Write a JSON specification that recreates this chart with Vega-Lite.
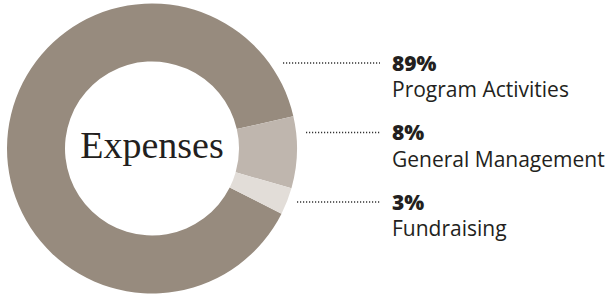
{
  "$schema": "https://vega.github.io/schema/vega-lite/v6.json",
  "padding": 0,
  "spacing": 0,
  "bounds": "flush",
  "background": "white",
  "config": {"view": {"stroke": null}, "font": "Open Sans"},
  "datasets": {
    "expenses": [
      {"category": "Program Activities", "share": 0.89},
      {"category": "General Management", "share": 0.08},
      {"category": "Fundraising", "share": 0.03}
    ],
    "center": [{"label": "Expenses"}]
  },
  "hconcat": [
    {
      "width": 304,
      "height": 297,
      "layer": [
        {
          "data": {"name": "expenses"},
          "mark": {"type": "arc", "innerRadius": 87, "outerRadius": 145},
          "encoding": {
            "theta": {"field": "share", "type": "quantitative", "stack": true, "scale": {"range": [2.037, 8.320]}},
            "order": {"field": "share", "type": "quantitative", "sort": "descending"},
            "color": {
              "field": "category",
              "type": "nominal",
              "scale": {
                "domain": ["Program Activities", "General Management", "Fundraising"],
                "range": ["#978b7e", "#bfb6ae", "#e2ddd8"]
              },
              "legend": null
            }
          }
        },
        {
          "data": {"name": "center"},
          "mark": {"type": "text", "font": "Liberation Serif", "fontSize": 38, "color": "#231f20", "baseline": "alphabetic", "align": "center", "dy": 9.5},
          "encoding": {"text": {"field": "label", "type": "nominal"}}
        }
      ]
    },
    {
      "width": 305,
      "height": 297,
      "data": {"name": "expenses"},
      "encoding": {
        "y": {
          "field": "category",
          "type": "nominal",
          "scale": {"type": "point", "padding": 0, "domain": ["Program Activities", "General Management", "Fundraising"], "range": [63, 202]},
          "axis": null
        }
      },
      "layer": [
        {
          "transform": [{"filter": "datum.category === 'Program Activities'"}],
          "mark": {"type": "rule", "strokeDash": [1.2, 1.8], "strokeWidth": 1.3, "color": "#333333"},
          "encoding": {
            "x": {"datum": 283, "type": "quantitative", "scale": {"domain": [304, 609], "nice": false, "zero": false}, "axis": null},
            "x2": {"datum": 380}
          }
        },
        {
          "transform": [{"filter": "datum.category === 'General Management'"}],
          "mark": {"type": "rule", "strokeDash": [1.2, 1.8], "strokeWidth": 1.3, "color": "#333333"},
          "encoding": {
            "x": {"datum": 306, "type": "quantitative"},
            "x2": {"datum": 380}
          }
        },
        {
          "transform": [{"filter": "datum.category === 'Fundraising'"}],
          "mark": {"type": "rule", "strokeDash": [1.2, 1.8], "strokeWidth": 1.3, "color": "#333333"},
          "encoding": {
            "x": {"datum": 297, "type": "quantitative"},
            "x2": {"datum": 380}
          }
        },
        {
          "mark": {"type": "text", "align": "left", "baseline": "alphabetic", "dy": 7.5, "fontSize": 21, "fontWeight": 800, "color": "#231f20"},
          "encoding": {
            "x": {"datum": 392, "type": "quantitative"},
            "text": {"field": "share", "type": "quantitative", "format": ".0%"}
          }
        },
        {
          "mark": {"type": "text", "align": "left", "baseline": "alphabetic", "dy": 34, "fontSize": 21, "color": "#231f20"},
          "encoding": {
            "x": {"datum": 392, "type": "quantitative"},
            "text": {"field": "category", "type": "nominal"}
          }
        }
      ]
    }
  ]
}
